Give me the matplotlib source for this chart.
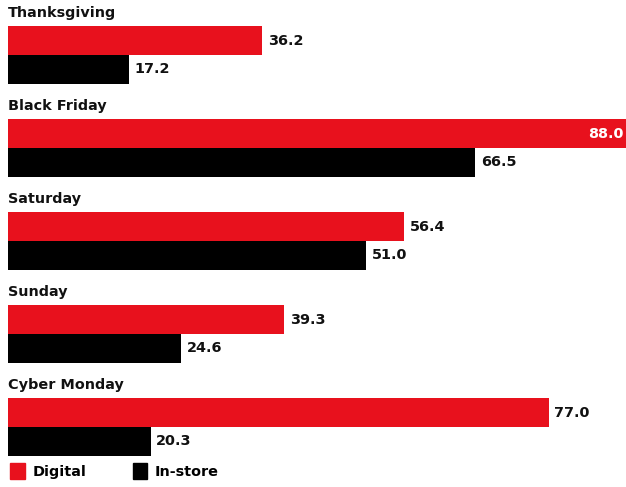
import numpy as np
import matplotlib.pyplot as plt
from matplotlib.patches import Patch

days = ["Thanksgiving", "Black Friday", "Saturday", "Sunday", "Cyber Monday"]
digital = [36.2, 88.0, 56.4, 39.3, 77.0]
instore = [17.2, 66.5, 51.0, 24.6, 20.3]

RED = "#e8111d"
BLACK = "#000000"

fig = plt.figure(figsize=(6.26, 4.87), dpi=100)
ax = fig.add_axes([8 / 626, 0, 618 / 626, 1])

y = np.arange(len(days))
h = 0.31
ax.barh(y - 0.155, digital, height=h, color=RED)
ax.barh(y + 0.155, instore, height=h, color=BLACK)

ax.set_xlim(0, 88)
ax.set_ylim((487 - 55) / 93, -55 / 93)
ax.axis("off")

fs = 10.4
for i, d in enumerate(days):
    ax.text(0, i - 0.45, d, fontsize=fs, fontweight="bold", va="center", ha="left", color="#111111")
    # digital value
    if digital[i] > 80:
        ax.text(digital[i] - 0.4, i - 0.155, f"{digital[i]:.1f}", fontsize=fs, fontweight="bold",
                va="center", ha="right", color="white")
    else:
        ax.text(digital[i] + 0.8, i - 0.155, f"{digital[i]:.1f}", fontsize=fs, fontweight="bold",
                va="center", ha="left", color="#111111")
    ax.text(instore[i] + 0.8, i + 0.155, f"{instore[i]:.1f}", fontsize=fs, fontweight="bold",
            va="center", ha="left", color="#111111")

handles = [Patch(color=RED, label="Digital"), Patch(color=BLACK, label="In-store")]
leg = fig.legend(handles=handles, loc="lower left", bbox_to_anchor=(0.0, -0.005), ncol=2, frameon=False,
                 handlelength=1.0, handleheight=1.35, handletextpad=0.55, columnspacing=3.2,
                 borderaxespad=0.3, prop={"weight": "bold", "size": fs})

fig.savefig("out.png", dpi=100)
